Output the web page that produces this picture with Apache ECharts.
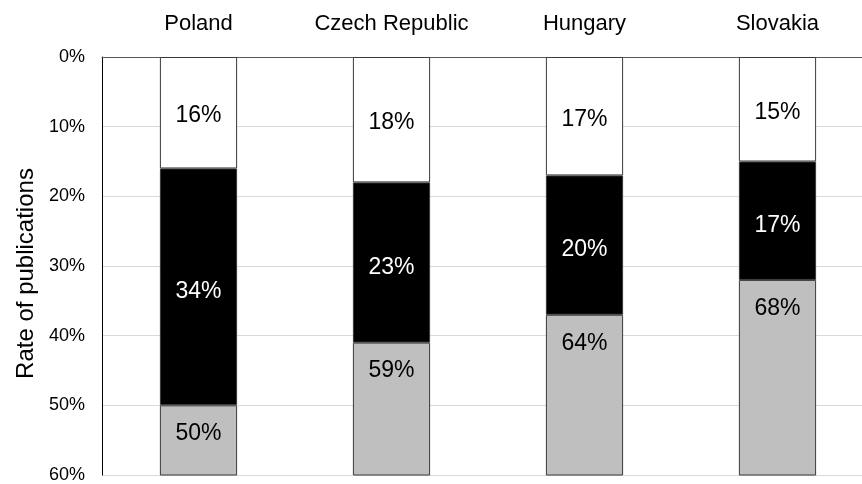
<!DOCTYPE html>
<html>
<head>
<meta charset="utf-8">
<script src="https://cdn.jsdelivr.net/npm/echarts@6/dist/echarts.min.js"></script>
<style>
  html, body { margin: 0; padding: 0; background: #fff; overflow: hidden; }
  /* the plot runs on a little past the right edge of the window */
  #chart { width: 874px; height: 484px; }
</style>
</head>
<body>
<div id="chart"></div>
<script>
// Share of publications per country, split into three groups (percent)
const countries = ['Poland', 'Czech Republic', 'Hungary', 'Slovakia'];
const whiteShare = [16, 18, 17, 15];
const blackShare = [34, 23, 20, 17];
const greyShare = [50, 59, 64, 68];
const yTicks = { min: 0, max: 60, interval: 10 };

const FONT = '"Liberation Sans", Arial, sans-serif';
const chart = echarts.init(document.getElementById('chart'), null, { renderer: 'canvas' });

function segment(name, data, fill, textColor, labelPos, labelDist, dy) {
  return {
    name: name,
    type: 'bar',
    stack: 'total',
    barWidth: '40%',
    clip: true,
    data: data,
    itemStyle: { color: fill, borderColor: '#3a3a3a', borderWidth: 1 },
    label: {
      show: true,
      position: labelPos,
      distance: labelDist,
      offset: [0, dy || 0],
      formatter: '{c}%',
      color: textColor,
      fontFamily: FONT,
      fontSize: 23
    },
    emphasis: { disabled: true }
  };
}

chart.setOption({
  animation: false,
  backgroundColor: '#ffffff',
  textStyle: { fontFamily: FONT },
  grid: { left: 102, right: 0, top: 57, bottom: 2, containLabel: false },
  xAxis: {
    type: 'category',
    position: 'top',
    data: countries,
    axisLine: { show: true, lineStyle: { color: '#595959', width: 1 } },
    axisTick: { show: false },
    axisLabel: { color: '#000', fontSize: 22, fontFamily: FONT, margin: 22, interval: 0 }
  },
  yAxis: {
    type: 'value',
    inverse: true,
    min: yTicks.min,
    max: yTicks.max,
    interval: yTicks.interval,
    name: 'Rate of publications',
    nameLocation: 'middle',
    nameRotate: 90,
    nameGap: 50,
    nameTextStyle: { color: '#000', fontSize: 24, fontFamily: FONT, padding: [0, 15, 0, 0] },
    axisLine: { show: true, lineStyle: { color: '#000', width: 1 } },
    axisTick: { show: false },
    axisLabel: { color: '#000', fontSize: 18, fontFamily: FONT, margin: 17, formatter: '{value}%' },
    splitLine: { show: true, lineStyle: { color: '#d9d9d9', width: 1 } }
  },
  series: [
    segment('white', whiteShare, '#ffffff', '#000', 'inside', undefined, 3),
    segment('black', blackShare, '#000000', '#fff', 'inside', undefined, 5),
    segment('grey', greyShare, '#bfbfbf', '#000', 'insideTop', 17, 0)
  ]
});
</script>
</body>
</html>
